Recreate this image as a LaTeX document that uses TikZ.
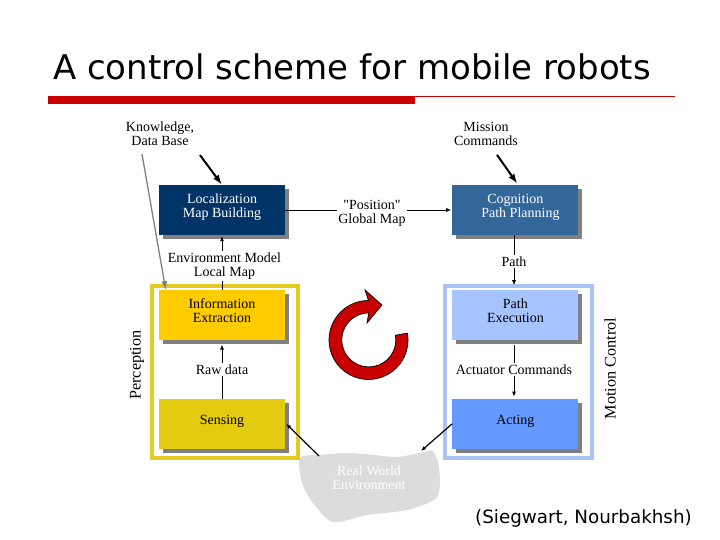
\documentclass[tikz,border=0pt]{standalone}
\usepackage{fontspec}
\setmainfont{Liberation Serif}
\newfontfamily\titlefont{DejaVu Sans}
\newfontfamily\quotefont{Liberation Serif}
\usepackage{xcolor}
\usetikzlibrary{arrows.meta,positioning,fit,shadows}
\definecolor{rbnavy}{HTML}{003366}
\definecolor{rbsteel}{HTML}{336699}
\definecolor{rbgold}{HTML}{FFCC00}
\definecolor{rbmustard}{HTML}{E3CC0F}
\definecolor{rbpale}{HTML}{A6C4FF}
\definecolor{rbblue}{HTML}{6699FF}
\definecolor{rbframe}{HTML}{A9C4F2}
\definecolor{rbyframe}{HTML}{E3CC22}
\definecolor{rbred}{HTML}{C80000}
\definecolor{rbcloud}{HTML}{DCDCDC}

\begin{document}
\begin{tikzpicture}[
  x=1bp,y=1bp,
  every node/.style={font=\fontsize{14bp}{14bp}\selectfont},
  block/.style={rectangle,minimum width=126bp,minimum height=50bp,align=center,
                inner sep=0pt,text depth=9bp,
                drop shadow={shadow xshift=4bp,shadow yshift=-4bp,fill=black!50,opacity=1}},
  lab/.style={align=center,inner sep=1bp},
  sidelab/.style={rotate=90,font=\fontsize{16.2bp}{17bp}\selectfont,inner sep=0pt},
  wrapper/.style={draw,line width=4bp,inner xsep=10bp,inner ysep=6.5bp,xshift=3bp,yshift=-2.5bp},
  flow/.style={-{Latex[length=5bp,width=4bp]},line width=0.8bp},
  plain/.style={line width=0.8bp},
  heavy/.style={-{Latex[length=10bp,width=7bp]},line width=2bp}
]
\useasboundingbox (0,0) rectangle (720,540);

%% ---- title ----
\node[anchor=base west,inner sep=0pt,font=\titlefont\fontsize{34bp}{36bp}\selectfont] (title) at (53,460) {A control scheme for mobile robots};
\fill[rbred] (48,436) rectangle (415,444);
\draw[rbred,line width=0.7bp] (415,444) -- (675,444);

%% ---- cloud ----
\fill[rbcloud] plot[smooth cycle,tension=0.5] coordinates {(300,82) (320,85) (347,87) (375,85) (397,83)
  (425,88) (433,89) (439,73) (437,43) (407,30) (367,25) (333,18) (313,37) (302,57)};

%% ---- upper row ----
\node[block,fill=rbnavy,text=white] (loc) at (222,330) {Localization\\ Map Building};
\node[block,right=167bp of loc,fill=rbsteel,text=white] (cog) {Cognition\\ \hspace*{10bp}Path Planning};

%% ---- perception column ----
\node[block,below=55bp of loc,fill=rbgold] (info) {Information\\ Extraction};
\node[block,below=58bp of info,fill=rbmustard,text depth=7bp] (sens) {Sensing};

%% ---- motion column ----
\node[block,below=55bp of cog,fill=rbpale] (exec) {Path\\ Execution};
\node[block,below=58bp of exec,fill=rbblue,text depth=7bp] (act) {Acting};

%% ---- labels ----
\node[lab] (know) at (160,406) {Knowledge,\\ Data Base};
\node[lab] (miss) at (486,406) {Mission\\ Commands};
\node[lab] (pos) at (372,326.5) {{\quotefont "Position"}\\ Global Map};
\node[lab] (env) at (224.5,274) {Environment Model\\ Local Map};
\node[lab] (path) at (514,278.5) {Path};
\node[lab] (raw) at (222,170.5) {Raw data};
\node[lab] (cmd) at (514,170.5) {Actuator Commands};
\node[lab,text=white] (world) at (369,62) {Real World\\ Environment};
\node[anchor=base west,inner sep=0pt,font=\titlefont\fontsize{18.3bp}{20bp}\selectfont] (cite) at (475,16) {(Siegwart, Nourbakhsh)};

%% ---- frames ----
\node[wrapper,draw=rbyframe,fit=(info)(sens)] (percbox) {};
\node[wrapper,draw=rbframe,fit=(exec)(act)] (motbox) {};
\node[sidelab] (perc) at (137,175) {Perception};
\node[sidelab] (mot) at (610,171.5) {Motion Control};

%% ---- arrows ----
\draw[heavy] ([xshift=40bp,yshift=-8bp]know.south) -- ([xshift=0bp]loc.north);
\draw[heavy] ([xshift=11bp,yshift=-8bp]miss.south) -- ([xshift=2bp,yshift=1bp]cog.north);
\draw[-{Latex[length=9bp,width=6bp]},line width=1.3bp,draw=black!50] ([xshift=-18bp,yshift=-7bp]know.south) -- ([xshift=7bp]info.north west);
\draw[plain] (loc.east) -- (pos.west |- loc.east);
\draw[flow] (pos.east |- cog.west) -- ([xshift=-1bp]cog.west);
\draw[flow] (env.north -| loc.south) -- ([yshift=-1bp]loc.south);
\draw[plain] (info.north) -- (env.south -| info.north);
\draw[plain] (path.north |- cog.south) -- (path.north);
\draw[flow] (path.south) -- ([yshift=5bp]path.south |- exec.north);
\draw[plain] (sens.north) -- (raw.south);
\draw[flow] (raw.north) -- ([yshift=-4bp]info.south);
\draw[plain] ([yshift=-4bp]cmd.north |- exec.south) -- (cmd.north);
\draw[flow] (cmd.south) -- ([yshift=2bp]cmd.south |- act.north);
\coordinate (wl) at (319,84);
\coordinate (wr) at (421,89);
\draw[flow,line width=1.2bp] (wl) -- ([xshift=1bp]sens.east);
\draw[flow,line width=1.2bp] (act.west) -- (wr);

%% ---- cycle arrow ----
\draw[fill=rbred,line width=0.7bp] (368.5,239.5) arc[start angle=90,end angle=370,radius=39.5bp]
  -- ++(-12,-2.1) arc[start angle=370,end angle=90,radius=27bp]
  -- (367,217) -- (382,235) -- (365,250) -- cycle;

\end{tikzpicture}
\end{document}
